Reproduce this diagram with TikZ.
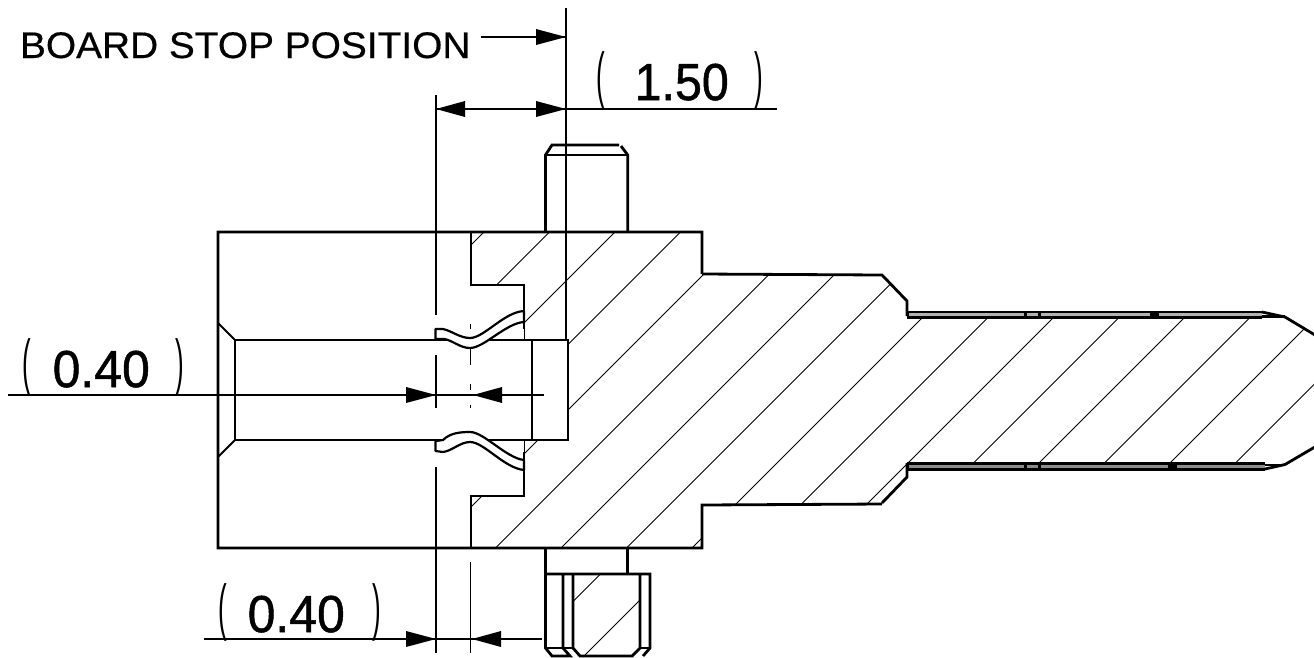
\documentclass[tikz,border=0pt]{standalone}
\usepackage{fontspec}
\usepackage{graphicx}
\setmainfont{Liberation Sans}
\newcommand\plabel[4]{\raisebox{4pt}{\scalebox{.42}[1]{\fontsize{62}{62}\selectfont(}}\hspace{#1pt}\scalebox{#4}[1]{\fontsize{52}{52}\selectfont\addfontfeature{FakeBold=1}#2}\hspace{#3pt}\raisebox{4pt}{\scalebox{.42}[1]{\fontsize{62}{62}\selectfont)}}}
\tikzset{
  heavy/.style={line width=2.8pt,line cap=butt,line join=miter},
  thinline/.style={line width=1.4pt},
  hatchline/.style={line width=1pt},
  dimtext/.style={inner sep=0pt,outer sep=0pt,anchor=base west,text=black},
}
\newcommand\tipR[2]{\fill (#1,#2)--(#1-30,#2-8)--(#1-30,#2+8)--cycle;}
\newcommand\tipL[2]{\fill (#1,#2)--(#1+29,#2-8)--(#1+29,#2+8)--cycle;}
\begin{document}
\begin{tikzpicture}[x=1pt,y=-1pt]
\useasboundingbox (0,0) rectangle (1314,657);
\fill[white] (0,0) rectangle (1314,657);
\begin{scope}
 \clip (0,0) rectangle (1314,657);
 % hatching of the section
 \begin{scope}
  \clip (471,232)--(702,232)--(702,274)--(882,275)--(907,301)--(907,318)--(1285,318)--(1330,345)--(1330,437)--(1285,463)--(907,463)--(907,477)--(882,504)--(702,505)--(702,548)--(471,548)--(471,496)--(524,496)--(524,440)--(568,440)--(568,340)--(524,340)--(524,285)--(471,285)--cycle;
  \foreach \k in {0,...,15}{
    \pgfmathsetmacro\s{716+65.5*\k}
    \draw[hatchline] (\s-700,700)--(\s-100,100);
  }
 \end{scope}
 % hatching of the nut
 \begin{scope}
  \clip (573,574)--(640,574)--(640,648)--(632,656)--(580,656)--(573,648)--cycle;
  \foreach \s in {1174.5,1240}{
    \draw[hatchline] (\s-700,700)--(\s-500,500);
  }
 \end{scope}
 % body outline
 \draw[heavy] (702,274)--(702,232)--(218,232)--(218,548)--(702,548)--(702,505)--(882,504);
 \draw[heavy] (702,274)--(882,275)--(907,301)--(907,316);
 \draw[heavy] (907,463)--(907,477)--(882,503);
 \draw[heavy] (471,232)--(471,285)--(524,285)--(524,339);
 \draw[heavy] (471,548)--(471,496)--(524,496)--(524,441);
 % pin bands
 \fill (907,310.5) rectangle (1262,318.5);
 \fill (1262,315) rectangle (1285,318);
 \fill[black!30] (909,313) rectangle (1262,315.5);
 \fill (1024,312) rectangle (1027,316);
 \fill (1038,312) rectangle (1041,316);
 \fill (1150,312) rectangle (1159,316);
 \draw[heavy] (1262,312)--(1285,317)--(1320,338);
 \fill (907,462) rectangle (1265,470.5);
 \fill (1265,464) rectangle (1285,466);
 \fill[black!45] (909,465) rectangle (1265,467.5);
 \fill (1024,464) rectangle (1027,468);
 \fill (1038,464) rectangle (1041,468);
 \fill (1168,464) rectangle (1177,468);
 \draw[heavy] (1265,469)--(1285,464.5)--(1320,444);
 % hole
 \draw[heavy] (235,340) rectangle (568,440);
 \draw[heavy] (532,340)--(532,440);
 \draw[line width=1.8pt] (218,323)--(235,340) (218,457)--(235,440);
 % contacts
 \fill[white] (437,329) rectangle (524,339);
 \fill[white] (437,441) rectangle (524,452);
 \draw[line width=2.2pt,line join=round,fill=white] (435.5,339)--(435.5,329)--(443,329) .. controls (452,331) and (460,338) .. (470,338) .. controls (484,338) and (504,312) .. (524,311)--(524,322) .. controls (506,323) and (484,348) .. (470,348) .. controls (460,348) and (452,340) .. (444,339)--cycle;
 \draw[line width=2.2pt,line join=round,fill=white] (435.5,441)--(435.5,451)--(443,452) .. controls (452,451) and (460,442) .. (470,442) .. controls (484,442) and (504,468) .. (524,470)--(524,460) .. controls (506,458) and (484,432) .. (470,432) .. controls (460,432) and (450,433) .. (443,440)--cycle;
 % top pin
 \draw[heavy] (545.5,232)--(545.5,155)--(552,145)--(619,145);
 \draw[heavy] (621,146)--(627.7,155)--(627.7,232);
 \draw[heavy] (545.5,155)--(627.7,155);
 % bottom pin and nut
 \draw[heavy] (545.5,548)--(545.5,574) (627.7,548)--(627.7,574);
 \draw[heavy] (545.5,574)--(650,574)--(650,648)--(643,656) (545.5,574)--(545.5,648)--(552,656)--(570,656)--(563,648)--(563,574);
 \draw[heavy] (573,574)--(573,648)--(580,656)--(632,656)--(640,648)--(640,574);
 \draw[heavy] (545.5,648)--(573,648);
 \draw[heavy] (640,648)--(650,648);
 % extension and centre lines
 \draw[thinline] (566,8)--(566,340);
 \draw[thinline] (436,95)--(436,315) (436,355)--(436,408) (436,467)--(436,653);
 \draw[thinline] (470.5,324)--(470.5,329) (470.5,348)--(470.5,365) (470.5,384)--(470.5,390) (470.5,405)--(470.5,408) (470.5,562)--(470.5,653);
 % dimension lines
 \draw[thinline] (481,37)--(566,37);
 \tipR{566}{37}
 \draw[thinline] (436,109)--(777,109);
 \tipL{436}{109}
 \tipR{566}{109}
 \draw[thinline] (8,395)--(544,395);
 \tipR{436}{395}
 \tipL{473}{395}
 \draw[thinline] (204,639)--(542,639);
 \tipR{436}{639}
 \tipL{472}{639}
\end{scope}
% labels
\node[dimtext] (board) at (20,58) {\scalebox{1.05}[1]{\fontsize{37}{37}\selectfont\addfontfeature{FakeBold=0.4}BOARD STOP POSITION}};
\node[dimtext] (dimA) at (596,100) {\plabel{30}{1.50}{26}{.93}};
\node[dimtext] (dimB) at (22,387) {\plabel{22}{0.40}{26}{.96}};
\node[dimtext] (dimC) at (218,632) {\plabel{21}{0.40}{28}{.96}};
\end{tikzpicture}
\end{document}
